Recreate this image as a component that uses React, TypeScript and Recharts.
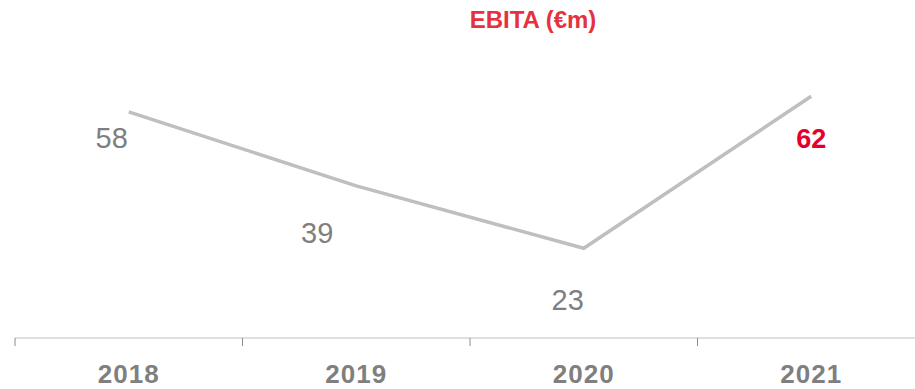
import { LineChart, Line, XAxis, YAxis, LabelList } from 'recharts'

const years = ['2018', '2019', '2020', '2021']
const ebita = [58, 39, 23, 62]
const highlightYear = '2021'

const data = years.map((year, i) => ({ year, ebita: ebita[i] }))

const WIDTH = 915
const HEIGHT = 389
const MARGIN = { top: 26, right: -10, left: 15, bottom: 11 }
const BAND = (WIDTH - MARGIN.left - MARGIN.right) / years.length

const FONT = '"Liberation Sans", Arial, sans-serif'
const GREY = '#7f7f7f'
const RED = '#e4002b'

// hand-placed value labels, relative to each point
const labelOffsets = [
  { dx: -17, dy: 36 },
  { dx: -39, dy: 57 },
  { dx: -16, dy: 62 },
  { dx: 0, dy: 52 },
]

function YearTick(props: any) {
  const { x, y, payload, index } = props
  const left = x - BAND / 2
  return (
    <g>
      <line x1={left} x2={left} y1={y - 8} y2={y} stroke="#8c8c8c" strokeWidth={1} />
      {index === years.length - 1 && (
        <line x1={x + BAND / 2} x2={x + BAND / 2} y1={y - 8} y2={y} stroke="#8c8c8c" strokeWidth={1} />
      )}
      <text
        x={x}
        y={y + 37}
        textAnchor="middle"
        fontFamily={FONT}
        fontSize={26}
        fontWeight="bold"
        letterSpacing={1}
        fill={GREY}
      >
        {payload.value}
      </text>
    </g>
  )
}

function ValueLabel(props: any) {
  const { x, y, value, index } = props
  const off = labelOffsets[index] || { dx: 0, dy: 40 }
  const hot = years[index] === highlightYear
  return (
    <text
      x={x + off.dx}
      y={y + off.dy}
      textAnchor="middle"
      fontFamily={FONT}
      fontSize={hot ? 27 : 29}
      fontWeight={hot ? 'bold' : 'normal'}
      fill={hot ? RED : GREY}
    >
      {value}
    </text>
  )
}

export default function App() {
  return (
    <div style={{ position: 'absolute', left: 0, top: 0, width: WIDTH, height: HEIGHT, background: '#fff' }}>
      <svg width={WIDTH} height={40} style={{ position: 'absolute', left: 0, top: 0 }}>
        <text x={533} y={28} textAnchor="middle" fontFamily={FONT} fontSize={24} fontWeight="bold" fill="#e5323e">
          EBITA (€m)
        </text>
      </svg>
      <LineChart width={WIDTH} height={HEIGHT} data={data} margin={MARGIN}>
        <XAxis
          dataKey="year"
          scale="band"
          height={40}
          axisLine={{ stroke: '#bfbfbf', strokeWidth: 1 }}
          tickLine={false}
          tickSize={8}
          tickMargin={0}
          interval={0}
          tick={<YearTick />}
        />
        <YAxis hide domain={[0, 80]} />
        <Line
          dataKey="ebita"
          type="linear"
          stroke="#bfbfbf"
          strokeWidth={3.5}
          dot={false}
          activeDot={false}
          isAnimationActive={false}
        >
          <LabelList dataKey="ebita" content={<ValueLabel />} />
        </Line>
      </LineChart>
    </div>
  )
}
